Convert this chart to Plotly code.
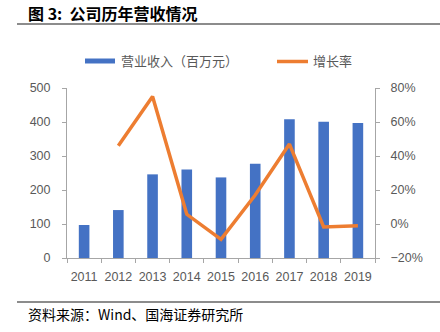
import plotly.graph_objects as go

# Annual revenue (million yuan) and year-on-year growth
years = ["2011", "2012", "2013", "2014", "2015", "2016", "2017", "2018", "2019"]
revenue = [97, 141, 246, 260, 237, 277, 408, 401, 397]
growth = [None, 0.46, 0.75, 0.057, -0.09, 0.17, 0.47, -0.017, -0.01]

W, H = 440, 332
L, R, T, B = 67, 375, 88, 258  # plot area in pixels

def px(x):
    return (x - L) / (R - L)

def py(y):
    return (B - y) / (B - T)

BLUE = "#4472C4"
ORANGE = "#ED7D31"
AXIS = "#A6A6A6"
TXT = "#595959"
FONT = "Liberation Sans, Noto Sans CJK SC, sans-serif"
CJK = "Noto Sans CJK SC, sans-serif"

fig = go.Figure()
fig.add_trace(go.Bar(x=years, y=revenue, name="营业收入（百万元）",
                     marker=dict(color=BLUE, line=dict(width=0)), width=0.31,
                     yaxis="y"))
fig.add_trace(go.Scatter(x=years, y=growth, name="增长率", mode="lines",
                         line=dict(color=ORANGE, width=3.5), yaxis="y2",
                         connectgaps=False))

fig.update_layout(
    width=W, height=H,
    margin=dict(l=L, r=W - R, t=T, b=H - B, pad=0),
    paper_bgcolor="white", plot_bgcolor="white",
    showlegend=False,
    font=dict(family=FONT, size=12, color=TXT),
    xaxis=dict(type="category", showline=True, linecolor=AXIS, linewidth=1,
               ticks="outside", ticklen=4, tickcolor=AXIS, tickson="boundaries",
               showgrid=False, tickfont=dict(size=12.5, color=TXT),
               tickangle=0, range=[-0.5, 8.5], ticklabelstandoff=7),
    yaxis=dict(range=[0, 500], dtick=100, showline=True, linecolor=AXIS,
               ticks="outside", ticklen=4, tickcolor=AXIS, showgrid=False,
               zeroline=False, tickfont=dict(size=12.5, color=TXT),
               ticklabelstandoff=9),
    yaxis2=dict(range=[-0.2, 0.8], dtick=0.2, tickformat=".0%", overlaying="y",
                side="right", showline=True, linecolor=AXIS, ticks="outside",
                ticklen=4, tickcolor=AXIS, showgrid=False, zeroline=False,
                tickfont=dict(size=12.5, color=TXT), ticklabelstandoff=8),
)

shapes = [
    # rule under the title and above the source note
    dict(type="line", xref="paper", yref="paper", x0=px(17), x1=px(440),
         y0=py(24), y1=py(24), line=dict(color="#666666", width=1.5)),
    dict(type="line", xref="paper", yref="paper", x0=px(17), x1=px(440),
         y0=py(302), y1=py(302), line=dict(color="#666666", width=1.5)),
    # legend keys
    dict(type="rect", xref="paper", yref="paper", x0=px(85), x1=px(115),
         y0=py(63.5), y1=py(58.5), fillcolor=BLUE, line=dict(width=0)),
    dict(type="line", xref="paper", yref="paper", x0=px(277), x1=px(308),
         y0=py(61.5), y1=py(61.5), line=dict(color=ORANGE, width=3.5)),
]

annotations = [
    dict(text="<b>图 3:  公司历年营收情况</b>", xref="paper", yref="paper",
         x=px(26), y=py(13), xanchor="left", yanchor="middle", showarrow=False,
         font=dict(family=CJK, size=16, color="#000000")),
    dict(text="营业收入（百万元）", xref="paper", yref="paper", x=px(119), y=py(61),
         xanchor="left", yanchor="middle", showarrow=False,
         font=dict(family=CJK, size=13, color=TXT)),
    dict(text="增长率", xref="paper", yref="paper", x=px(311), y=py(61),
         xanchor="left", yanchor="middle", showarrow=False,
         font=dict(family=CJK, size=13, color=TXT)),
    dict(text="资料来源：Wind、国海证券研究所", xref="paper", yref="paper",
         x=px(26), y=py(314), xanchor="left", yanchor="middle", showarrow=False,
         font=dict(family=CJK, size=14, color="#000000")),
]

fig.update_layout(shapes=shapes, annotations=annotations)
fig.write_html("out.html")
